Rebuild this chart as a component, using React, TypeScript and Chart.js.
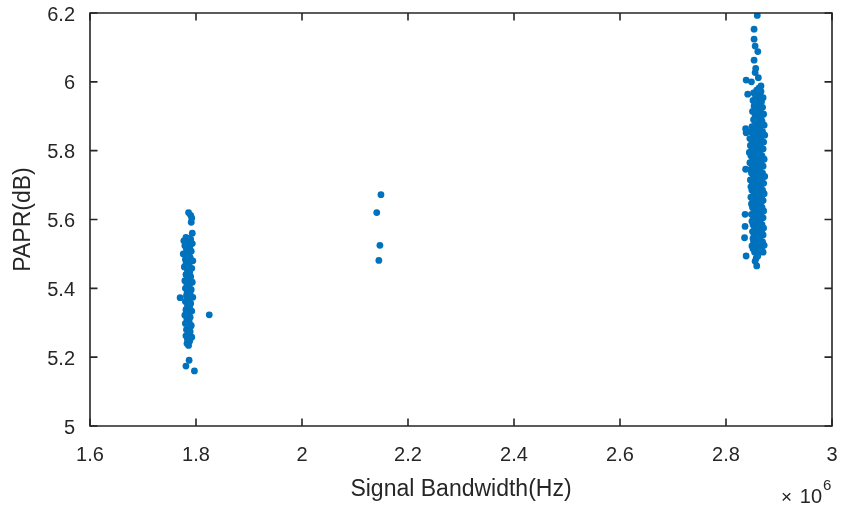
import React, { useEffect, useRef } from "react";
import { Chart, registerables } from "chart.js";

Chart.register(...registerables);

// x in units of 10^6 Hz, y in dB
const xTicks = [1.6, 1.8, 2.0, 2.2, 2.4, 2.6, 2.8, 3.0];
const yTicks = [5.0, 5.2, 5.4, 5.6, 5.8, 6.0, 6.2];

const leftCluster: [number, number][] = [
  [1.786, 5.62], [1.79, 5.612], [1.792, 5.604], [1.791, 5.592], [1.793, 5.56],
  [1.781, 5.548], [1.786, 5.545], [1.79, 5.542], [1.777, 5.538], [1.784, 5.534], [1.793, 5.53],
  [1.779, 5.524], [1.788, 5.52], [1.782, 5.512], [1.791, 5.508], [1.776, 5.5], [1.785, 5.497],
  [1.789, 5.49], [1.78, 5.484], [1.794, 5.48], [1.783, 5.474], [1.787, 5.468], [1.778, 5.462],
  [1.792, 5.458], [1.784, 5.452], [1.788, 5.446], [1.781, 5.44], [1.79, 5.434], [1.786, 5.428],
  [1.779, 5.422], [1.793, 5.418], [1.783, 5.412], [1.787, 5.406], [1.78, 5.4], [1.791, 5.396],
  [1.785, 5.39], [1.789, 5.384], [1.782, 5.378], [1.794, 5.374], [1.786, 5.368], [1.78, 5.362],
  [1.79, 5.356], [1.784, 5.35], [1.788, 5.344], [1.781, 5.338], [1.792, 5.334], [1.785, 5.328],
  [1.779, 5.322], [1.789, 5.316], [1.783, 5.31], [1.787, 5.304], [1.78, 5.298], [1.791, 5.292],
  [1.785, 5.286], [1.782, 5.28], [1.789, 5.274], [1.786, 5.268], [1.781, 5.262], [1.792, 5.258],
  [1.784, 5.252], [1.788, 5.246], [1.783, 5.24], [1.786, 5.234],
  [1.784, 5.53], [1.787, 5.505], [1.781, 5.47], [1.789, 5.415], [1.783, 5.385], [1.787, 5.352],
  [1.784, 5.32], [1.79, 5.29], [1.786, 5.3], [1.782, 5.44], [1.785, 5.455], [1.788, 5.48],
  [1.77, 5.373], [1.825, 5.323], [1.787, 5.191], [1.781, 5.174], [1.797, 5.16],
];

const middleCluster: [number, number][] = [
  [2.149, 5.672], [2.141, 5.62], [2.147, 5.525], [2.145, 5.481],
];

const rightCluster: [number, number][] = [
  [2.859, 6.193], [2.853, 6.153], [2.853, 6.124], [2.855, 6.104], [2.86, 6.088], [2.853, 6.063],
  [2.856, 6.039], [2.855, 6.027], [2.861, 6.012], [2.838, 6.005], [2.848, 6.0], [2.866, 5.988],
  [2.841, 5.964],
  [2.862, 5.982], [2.858, 5.976], [2.866, 5.972], [2.852, 5.968], [2.864, 5.962], [2.856, 5.958],
  [2.87, 5.954], [2.86, 5.95], [2.851, 5.946], [2.867, 5.942], [2.857, 5.938], [2.863, 5.934],
  [2.853, 5.93], [2.869, 5.926], [2.859, 5.922], [2.865, 5.918], [2.85, 5.914], [2.861, 5.91],
  [2.871, 5.906], [2.855, 5.902], [2.866, 5.898], [2.858, 5.894], [2.852, 5.89], [2.868, 5.886],
  [2.862, 5.882], [2.856, 5.878], [2.872, 5.874], [2.849, 5.87], [2.864, 5.866], [2.858, 5.862],
  [2.837, 5.864], [2.838, 5.852], [2.837, 5.746], [2.836, 5.615], [2.836, 5.58], [2.835, 5.547],
  [2.838, 5.494],
  [2.847, 5.855], [2.858, 5.855], [2.869, 5.855],
  [2.852, 5.845], [2.863, 5.845], [2.873, 5.845],
  [2.845, 5.835], [2.856, 5.835], [2.866, 5.835],
  [2.85, 5.825], [2.861, 5.825], [2.871, 5.825],
  [2.854, 5.815], [2.865, 5.815], [2.846, 5.815],
  [2.849, 5.805], [2.86, 5.805], [2.87, 5.805],
  [2.853, 5.795], [2.864, 5.795], [2.844, 5.795],
  [2.847, 5.785], [2.857, 5.785], [2.868, 5.785],
  [2.851, 5.775], [2.862, 5.775], [2.872, 5.775],
  [2.845, 5.765], [2.855, 5.765], [2.866, 5.765],
  [2.85, 5.755], [2.86, 5.755], [2.87, 5.755],
  [2.854, 5.745], [2.864, 5.745], [2.846, 5.745],
  [2.848, 5.735], [2.859, 5.735], [2.869, 5.735],
  [2.852, 5.725], [2.863, 5.725], [2.873, 5.725],
  [2.846, 5.715], [2.857, 5.715], [2.867, 5.715],
  [2.85, 5.705], [2.861, 5.705], [2.871, 5.705],
  [2.854, 5.695], [2.865, 5.695], [2.847, 5.695],
  [2.849, 5.685], [2.859, 5.685], [2.869, 5.685],
  [2.853, 5.675], [2.863, 5.675], [2.872, 5.675],
  [2.847, 5.665], [2.857, 5.665], [2.867, 5.665],
  [2.851, 5.655], [2.861, 5.655], [2.87, 5.655],
  [2.855, 5.645], [2.865, 5.645], [2.848, 5.645],
  [2.85, 5.635], [2.859, 5.635], [2.868, 5.635],
  [2.853, 5.625], [2.862, 5.625], [2.871, 5.625],
  [2.848, 5.615], [2.857, 5.615], [2.866, 5.615],
  [2.852, 5.605], [2.861, 5.605], [2.87, 5.605],
  [2.855, 5.595], [2.864, 5.595], [2.849, 5.595],
  [2.851, 5.585], [2.859, 5.585], [2.868, 5.585],
  [2.854, 5.575], [2.862, 5.575], [2.871, 5.575],
  [2.85, 5.565], [2.858, 5.565], [2.867, 5.565],
  [2.853, 5.555], [2.861, 5.555], [2.87, 5.555],
  [2.856, 5.545], [2.864, 5.545], [2.851, 5.545],
  [2.852, 5.535], [2.86, 5.535], [2.869, 5.535],
  [2.855, 5.525], [2.863, 5.525], [2.872, 5.525],
  [2.851, 5.515], [2.859, 5.515], [2.867, 5.515],
  [2.854, 5.505], [2.862, 5.505], [2.87, 5.505],
  [2.858, 5.465], [2.855, 5.479], [2.86, 5.494], [2.849, 5.523], [2.862, 5.518], [2.857, 5.488],
];

const xTitle = "Signal Bandwidth(Hz)";
const yTitle = "PAPR(dB)";
const exponentTimes = "\u00d7";
const exponentBase = "10";
const exponentPower = "6";

const AXIS_COLOR = "#262626";
const POINT_COLOR = "#0072BD";
const FONT = "'Liberation Sans', Arial, Helvetica, sans-serif";

const toPoints = (arr: [number, number][]) => arr.map(([x, y]) => ({ x, y }));

const fmt = (v: number) => String(Number(v.toFixed(1)));

const framePlugin = {
  id: "matlabFrame",
  afterDraw(chart: any) {
    const { ctx, chartArea } = chart;
    const { left, right, top, bottom } = chartArea;
    const xs = chart.scales.x;
    const ys = chart.scales.y;
    const tl = 7.5;
    ctx.save();
    ctx.strokeStyle = AXIS_COLOR;
    ctx.lineWidth = 1.6;
    ctx.beginPath();
    ctx.rect(left, top, right - left, bottom - top);
    ctx.stroke();
    ctx.beginPath();
    for (const v of xTicks) {
      const px = xs.getPixelForValue(v);
      ctx.moveTo(px, bottom);
      ctx.lineTo(px, bottom - tl);
      ctx.moveTo(px, top);
      ctx.lineTo(px, top + tl);
    }
    for (const v of yTicks) {
      const py = ys.getPixelForValue(v);
      ctx.moveTo(left, py);
      ctx.lineTo(left + tl, py);
      ctx.moveTo(right, py);
      ctx.lineTo(right - tl, py);
    }
    ctx.stroke();
    // exponent label (x10^6)
    ctx.fillStyle = AXIS_COLOR;
    ctx.textBaseline = "alphabetic";
    ctx.textAlign = "left";
    ctx.font = `15px ${FONT}`;
    ctx.fillText(exponentPower, right - 9, 490);
    ctx.font = `20px ${FONT}`;
    ctx.textAlign = "right";
    ctx.fillText(exponentBase, right - 10, 503);
    ctx.font = `19px ${FONT}`;
    ctx.textAlign = "left";
    ctx.fillText(exponentTimes, right - 51, 503);
    ctx.restore();
  },
};

export default function App() {
  const ref = useRef<HTMLCanvasElement | null>(null);
  useEffect(() => {
    document.body.style.margin = "0";
    if (!ref.current) return;
    const ds = (data: [number, number][]) => ({
      data: toPoints(data),
      backgroundColor: POINT_COLOR,
      borderColor: POINT_COLOR,
      borderWidth: 0,
      pointRadius: 3.4,
      pointHoverRadius: 3.4,
    });
    const chart = new Chart(ref.current, {
      type: "scatter",
      data: { datasets: [ds(leftCluster), ds(middleCluster), ds(rightCluster)] },
      plugins: [framePlugin],
      options: {
        responsive: false,
        animation: false,
        events: [],
        layout: { padding: { left: 0, right: 9, top: 13, bottom: 0 } },
        plugins: { legend: { display: false }, tooltip: { enabled: false } },
        scales: {
          x: {
            type: "linear",
            min: 1.6,
            max: 3.0,
            afterFit: (s: any) => {
              s.height = 81;
              s.paddingLeft = 0;
              s.paddingRight = 0;
            },
            afterBuildTicks: (s: any) => { s.ticks = xTicks.map((v) => ({ value: v })); },
            grid: { display: false, drawTicks: false },
            border: { display: false },
            ticks: {
              padding: 17,
              color: AXIS_COLOR,
              font: { family: FONT, size: 20 },
              maxRotation: 0,
              autoSkip: false,
              callback: (v: any) => fmt(Number(v)),
            },
            title: {
              display: true,
              text: xTitle,
              color: AXIS_COLOR,
              font: { family: FONT, size: 23 },
              padding: { top: 0, bottom: 3.5 },
            },
          },
          y: {
            type: "linear",
            min: 5.0,
            max: 6.2,
            afterFit: (s: any) => {
              s.width = 90;
              s.paddingTop = 0;
              s.paddingBottom = 0;
            },
            afterBuildTicks: (s: any) => { s.ticks = yTicks.map((v) => ({ value: v })); },
            grid: { display: false, drawTicks: false },
            border: { display: false },
            ticks: {
              padding: 15,
              labelOffset: 2,
              color: AXIS_COLOR,
              font: { family: FONT, size: 20 },
              autoSkip: false,
              callback: (v: any) => fmt(Number(v)),
            },
            title: {
              display: true,
              text: yTitle,
              color: AXIS_COLOR,
              font: { family: FONT, size: 23 },
              padding: { top: 10, bottom: 0 },
            },
          },
        },
      },
    });
    return () => chart.destroy();
  }, []);
  return (
    <div style={{ width: 841, height: 507, background: "#fff" }}>
      <canvas ref={ref} width={841} height={507} style={{ display: "block" }} />
    </div>
  );
}
